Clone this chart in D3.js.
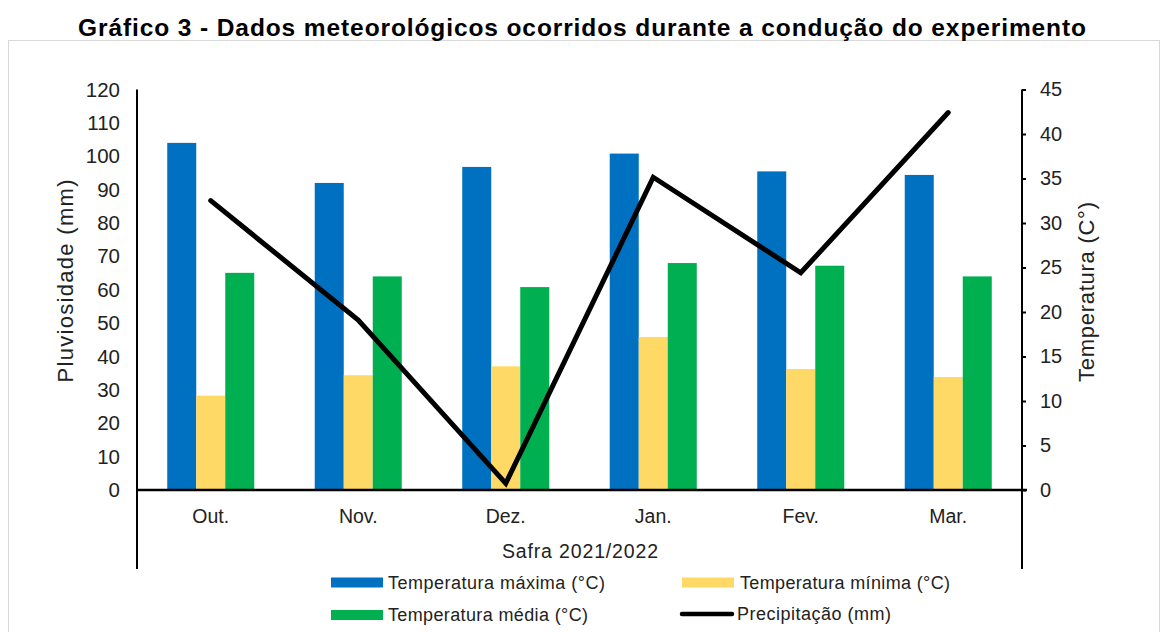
<!DOCTYPE html>
<html>
<head>
<meta charset="utf-8">
<script src="https://cdn.jsdelivr.net/npm/d3@7/dist/d3.min.js"></script>
<style>
  html, body { margin: 0; padding: 0; background: #ffffff; }
  svg { display: block; font-family: "Liberation Sans", Arial, sans-serif; }
</style>
</head>
<body>
<svg id="chart" width="1168" height="632"></svg>
<script>
// Monthly weather during the 2021/2022 season
const months = ["Out.", "Nov.", "Dez.", "Jan.", "Fev.", "Mar."];
const tempMax = [39.0, 34.5, 36.3, 37.8, 35.8, 35.4];   // °C
const tempMin = [10.6, 12.9, 13.9, 17.2, 13.6, 12.7];   // °C
const tempMed = [24.4, 24.0, 22.8, 25.5, 25.2, 24.0];   // °C
const precip  = [86.7, 50.9, 2.0, 93.7, 65.1, 113.1];   // mm
const rainTicks = [0, 10, 20, 30, 40, 50, 60, 70, 80, 90, 100, 110, 120];
const tempTicks = [0, 5, 10, 15, 20, 25, 30, 35, 40, 45];

const barSeries = [
  { key: "max", label: "Temperatura máxima (°C)", color: "#0070C0", values: tempMax },
  { key: "min", label: "Temperatura mínima (°C)", color: "#FFD966", values: tempMin },
  { key: "med", label: "Temperatura média (°C)", color: "#00B050", values: tempMed }
];

const svg = d3.select("#chart");
const plotLeft = 137, plotRight = 1022, plotTop = 89.5, plotBase = 490;
const textColor = "#222";

// light outer frame
svg.append("rect")
  .attr("x", 8.5).attr("y", 40.5).attr("width", 1151).attr("height", 620)
  .attr("fill", "none").attr("stroke", "#d9d9d9").attr("stroke-width", 1);

// title
svg.append("text")
  .attr("x", 582).attr("y", 35.5)
  .attr("text-anchor", "middle")
  .attr("font-weight", "bold").attr("font-size", 24.5)
  .attr("textLength", 1008).attr("lengthAdjust", "spacing")
  .attr("fill", "#000")
  .text("Gráfico 3 - Dados meteorológicos ocorridos durante a condução do experimento");

const x = d3.scaleBand().domain(months).range([plotLeft, plotRight])
  .paddingInner(0.41).paddingOuter(0.205);
const x1 = d3.scaleBand().domain(barSeries.map(s => s.key)).range([0, x.bandwidth()]);
const yRain = d3.scaleLinear().domain([0, 120]).range([plotBase, plotTop]);
const yTemp = d3.scaleLinear().domain([0, 45]).range([plotBase, plotTop]);

// bars (temperature, right axis)
const groups = svg.append("g").selectAll("g")
  .data(months).join("g")
  .attr("transform", d => `translate(${x(d)},0)`);
groups.selectAll("rect")
  .data((m, i) => barSeries.map(s => ({ key: s.key, color: s.color, v: s.values[i] })))
  .join("rect")
  .attr("x", d => x1(d.key))
  .attr("width", x1.bandwidth())
  .attr("y", d => yTemp(d.v))
  .attr("height", d => plotBase - yTemp(d.v))
  .attr("fill", d => d.color);

// precipitation line (left axis)
const line = d3.line()
  .x((d, i) => x(months[i]) + x.bandwidth() / 2)
  .y(d => yRain(d));
svg.append("path")
  .datum(precip)
  .attr("d", line)
  .attr("fill", "none")
  .attr("stroke", "#000")
  .attr("stroke-width", 5)
  .attr("stroke-linejoin", "miter")
  .attr("stroke-linecap", "round");

// left axis
const axL = svg.append("g").attr("transform", `translate(${plotLeft},0)`)
  .call(d3.axisLeft(yRain).tickValues(rainTicks).tickSize(0).tickPadding(17));
axL.select(".domain").remove();
axL.selectAll("text").attr("font-size", 20.5).attr("fill", textColor)
  .attr("font-family", "Liberation Sans, Arial, sans-serif");

// right axis
const axR = svg.append("g").attr("transform", `translate(${plotRight},0)`)
  .call(d3.axisRight(yTemp).tickValues(tempTicks).tickSize(4).tickPadding(14));
axR.select(".domain").remove();
axR.selectAll("line").attr("stroke", "#000").attr("stroke-width", 2);
axR.selectAll("text").attr("font-size", 20).attr("fill", textColor)
  .attr("font-family", "Liberation Sans, Arial, sans-serif");

// axis lines, extending down through the category area
svg.append("line").attr("x1", plotLeft).attr("x2", plotLeft).attr("y1", plotTop).attr("y2", 569)
  .attr("stroke", "#000").attr("stroke-width", 2);
svg.append("line").attr("x1", plotRight).attr("x2", plotRight).attr("y1", plotTop).attr("y2", 569)
  .attr("stroke", "#000").attr("stroke-width", 2);
svg.append("line").attr("x1", plotLeft - 1).attr("x2", plotRight + 5).attr("y1", plotBase).attr("y2", plotBase)
  .attr("stroke", "#000").attr("stroke-width", 2.5);

// category labels
svg.append("g").selectAll("text")
  .data(months).join("text")
  .attr("x", d => x(d) + x.bandwidth() / 2)
  .attr("y", 523)
  .attr("text-anchor", "middle")
  .attr("font-size", 19.5).attr("fill", textColor)
  .text(d => d);

svg.append("text")
  .attr("x", 580).attr("y", 558)
  .attr("text-anchor", "middle")
  .attr("font-size", 19.5).attr("fill", textColor)
  .attr("textLength", 156).attr("lengthAdjust", "spacing")
  .text("Safra 2021/2022");

// axis titles
svg.append("text")
  .attr("transform", "translate(73,281) rotate(-90)")
  .attr("text-anchor", "middle")
  .attr("font-size", 22).attr("fill", textColor)
  .attr("textLength", 203).attr("lengthAdjust", "spacing")
  .text("Pluviosidade (mm)");
svg.append("text")
  .attr("transform", "translate(1094,292) rotate(-90)")
  .attr("text-anchor", "middle")
  .attr("font-size", 22).attr("fill", textColor)
  .attr("textLength", 180).attr("lengthAdjust", "spacing")
  .text("Temperatura (C°)");

// legend
const legendItems = [
  { label: barSeries[0].label, color: barSeries[0].color, type: "rect", x: 331, y: 582.5, tx: 388, w: 217 },
  { label: barSeries[1].label, color: barSeries[1].color, type: "rect", x: 682, y: 582.5, tx: 740, w: 210 },
  { label: barSeries[2].label, color: barSeries[2].color, type: "rect", x: 331, y: 615, tx: 388, w: 200 },
  { label: "Precipitação (mm)", color: "#000", type: "line", x: 682, y: 614, tx: 737, w: 154 }
];
const lg = svg.append("g").selectAll("g").data(legendItems).join("g");
lg.filter(d => d.type === "rect").append("rect")
  .attr("x", d => d.x).attr("y", d => d.y - 5).attr("width", 52).attr("height", 10)
  .attr("fill", d => d.color);
lg.filter(d => d.type === "line").append("line")
  .attr("x1", d => d.x).attr("x2", d => d.x + 50).attr("y1", d => d.y).attr("y2", d => d.y)
  .attr("stroke", "#000").attr("stroke-width", 4.5).attr("stroke-linecap", "round");
lg.append("text")
  .attr("x", d => d.tx).attr("y", d => d.y + 6)
  .attr("font-size", 18).attr("fill", textColor)
  .attr("textLength", d => d.w).attr("lengthAdjust", "spacing")
  .text(d => d.label);
</script>
</body>
</html>
